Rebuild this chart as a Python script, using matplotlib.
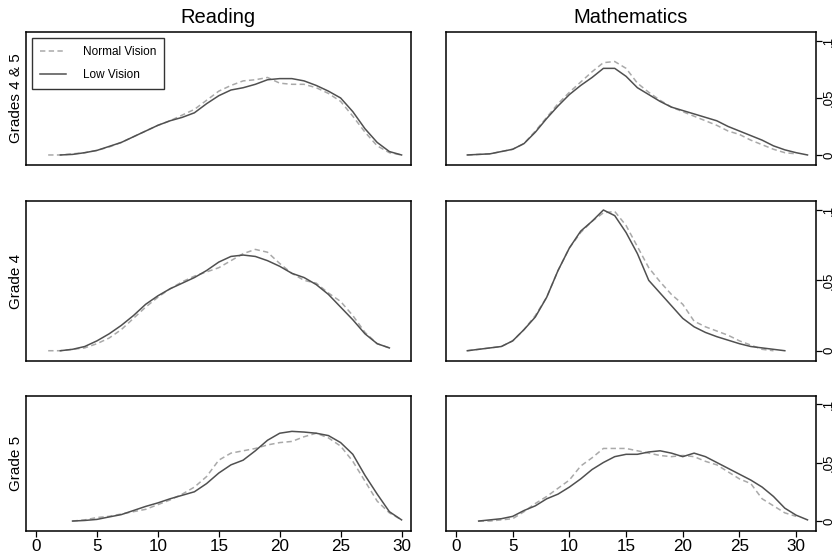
import numpy as np
import matplotlib
matplotlib.use("Agg")
import matplotlib.pyplot as plt

plt.rcParams['font.family'] = ['Liberation Sans', 'DejaVu Sans']

col_titles = ["Reading", "Mathematics"]
row_labels = ["Grades 4 & 5", "Grade 4", "Grade 5"]
series_names = ["Normal Vision", "Low Vision"]
xticks = [0, 5, 10, 15, 20, 25, 30]
yticks = [0, 0.05, 0.1]
ytick_labels = ["0", ".05", ".1"]

# Reading, Grades 4 & 5
read_g45_low_x = np.arange(2, 31)
read_g45_low = [0.000, 0.0005, 0.002, 0.004, 0.0075, 0.011, 0.016, 0.021, 0.026, 0.030,
                0.033, 0.037, 0.045, 0.052, 0.057, 0.059, 0.062, 0.066, 0.067, 0.067,
                0.065, 0.061, 0.056, 0.050, 0.038, 0.023, 0.011, 0.003, 0.000]
read_g45_normal_x = np.arange(1, 31)
read_g45_normal = [0.000, 0.000, 0.001, 0.002, 0.004, 0.007, 0.011, 0.016, 0.021, 0.026,
                   0.030, 0.035, 0.040, 0.048, 0.056, 0.061, 0.065, 0.066, 0.068, 0.063,
                   0.062, 0.062, 0.059, 0.054, 0.047, 0.034, 0.020, 0.008, 0.002, 0.000]

# Mathematics, Grades 4 & 5
math_g45_low_x = np.arange(1, 32)
math_g45_low = [0.000, 0.0005, 0.001, 0.003, 0.005, 0.010, 0.020, 0.032, 0.043, 0.053,
                0.061, 0.068, 0.076, 0.076, 0.069, 0.059, 0.053, 0.047, 0.042, 0.039,
                0.036, 0.033, 0.030, 0.025, 0.021, 0.017, 0.013, 0.008, 0.0045, 0.002, 0.000]
math_g45_normal_x = np.arange(1, 31)
math_g45_normal = [0.000, 0.0005, 0.001, 0.003, 0.005, 0.010, 0.021, 0.033, 0.045, 0.055,
                   0.064, 0.073, 0.081, 0.082, 0.076, 0.063, 0.055, 0.048, 0.042, 0.038,
                   0.034, 0.030, 0.026, 0.021, 0.018, 0.013, 0.009, 0.005, 0.002, 0.001]

# Reading, Grade 4
read_g4_low_x = np.arange(2, 30)
read_g4_low = [0.000, 0.001, 0.003, 0.007, 0.012, 0.018, 0.025, 0.033, 0.039, 0.044,
               0.048, 0.052, 0.057, 0.063, 0.067, 0.068, 0.067, 0.064, 0.060, 0.055,
               0.052, 0.047, 0.040, 0.031, 0.022, 0.012, 0.005, 0.002]
read_g4_normal_x = np.arange(1, 30)
read_g4_normal = [0.000, 0.000, 0.001, 0.002, 0.005, 0.009, 0.015, 0.023, 0.031, 0.038,
                  0.044, 0.049, 0.053, 0.056, 0.059, 0.064, 0.069, 0.072, 0.070, 0.062,
                  0.055, 0.050, 0.048, 0.041, 0.035, 0.025, 0.013, 0.005, 0.002]

# Mathematics, Grade 4
math_g4_low_x = np.arange(1, 30)
math_g4_low = [0.000, 0.001, 0.002, 0.003, 0.007, 0.015, 0.024, 0.038, 0.057, 0.073,
               0.085, 0.092, 0.100, 0.096, 0.084, 0.069, 0.050, 0.041, 0.032, 0.023,
               0.017, 0.013, 0.010, 0.0075, 0.005, 0.003, 0.002, 0.001, 0.000]
math_g4_normal_x = np.arange(1, 29)
math_g4_normal = [0.000, 0.001, 0.002, 0.003, 0.007, 0.015, 0.025, 0.038, 0.057, 0.073,
                  0.084, 0.092, 0.098, 0.099, 0.089, 0.074, 0.059, 0.049, 0.040, 0.033,
                  0.021, 0.017, 0.014, 0.011, 0.007, 0.004, 0.001, 0.000]

# Reading, Grade 5
read_g5_low_x = np.arange(3, 31)
read_g5_low = [0.000, 0.0005, 0.0014, 0.0035, 0.0055, 0.009, 0.0125, 0.0155, 0.019, 0.022,
               0.025, 0.032, 0.041, 0.048, 0.052, 0.060, 0.069, 0.075, 0.0766, 0.076,
               0.075, 0.073, 0.067, 0.057, 0.039, 0.023, 0.008, 0.001]
read_g5_normal_x = np.arange(3, 31)
read_g5_normal = [0.000, 0.001, 0.003, 0.004, 0.006, 0.008, 0.010, 0.014, 0.018, 0.023,
                  0.029, 0.038, 0.052, 0.058, 0.060, 0.062, 0.065, 0.067, 0.068, 0.072,
                  0.075, 0.071, 0.064, 0.051, 0.034, 0.017, 0.007, 0.001]

# Mathematics, Grade 5
math_g5_low_x = np.arange(2, 32)
math_g5_low = [0.000, 0.001, 0.002, 0.004, 0.009, 0.013, 0.019, 0.023, 0.029, 0.036,
               0.044, 0.050, 0.055, 0.057, 0.057, 0.059, 0.060, 0.058, 0.055, 0.058,
               0.055, 0.050, 0.045, 0.040, 0.035, 0.029, 0.021, 0.011, 0.005, 0.001]
math_g5_normal_x = np.arange(2, 31)
math_g5_normal = [0.000, 0.000, 0.001, 0.002, 0.008, 0.015, 0.021, 0.028, 0.035, 0.047,
                  0.054, 0.062, 0.062, 0.062, 0.060, 0.058, 0.056, 0.055, 0.056, 0.055,
                  0.051, 0.048, 0.042, 0.036, 0.032, 0.019, 0.013, 0.007, 0.004]

panels = [
    [(read_g45_normal_x, read_g45_normal, read_g45_low_x, read_g45_low),
     (math_g45_normal_x, math_g45_normal, math_g45_low_x, math_g45_low)],
    [(read_g4_normal_x, read_g4_normal, read_g4_low_x, read_g4_low),
     (math_g4_normal_x, math_g4_normal, math_g4_low_x, math_g4_low)],
    [(read_g5_normal_x, read_g5_normal, read_g5_low_x, read_g5_low),
     (math_g5_normal_x, math_g5_normal, math_g5_low_x, math_g5_low)],
]

W, H = 839, 553
fig = plt.figure(figsize=(W / 100, H / 100), dpi=100)

col_px = [(26, 410.7), (446, 816)]
row_px = [(32, 165), (201, 361), (396, 531)]
col_xlim = [(-0.82, 30.75), (-0.88, 31.75)]
row_ylim = [(-0.0088, 0.1079), (-0.0073, 0.1064), (-0.0085, 0.1068)]

solid_color = "#505050"
dash_color = "#a9a9a9"

for r in range(3):
    for c in range(2):
        x0, x1 = col_px[c]
        y0, y1 = row_px[r]
        ax = fig.add_axes([x0 / W, 1 - y1 / H, (x1 - x0) / W, (y1 - y0) / H])
        nx, ny, lx, ly = panels[r][c]
        ax.plot(nx, ny, color=dash_color, lw=1.1, dashes=(3.5, 2.2), label=series_names[0])
        ax.plot(lx, ly, color=solid_color, lw=1.1, label=series_names[1])
        ax.set_xlim(*col_xlim[c])
        ax.set_ylim(*row_ylim[r])
        for sp in ax.spines.values():
            sp.set_linewidth(1.1)
            sp.set_color("black")
        if r == 2:
            ax.set_xticks(xticks)
            ax.tick_params(axis='x', direction='out', length=4.5, width=0.9,
                           labelsize=12.3, pad=1.5)
        else:
            ax.set_xticks([])
        if c == 1:
            ax.yaxis.tick_right()
            ax.set_yticks(yticks)
            ax.set_yticklabels(ytick_labels, rotation=90, va='center')
            ax.tick_params(axis='y', direction='out', length=4, width=0.9,
                           labelsize=9.5, pad=1.2)
        else:
            ax.set_yticks([])
            ax.set_ylabel(row_labels[r], fontsize=11, labelpad=2)
        if r == 0:
            ax.set_title(col_titles[c], fontsize=14.5, pad=6.5)
        if r == 0 and c == 0:
            leg = ax.legend(loc='upper left', bbox_to_anchor=(0.0156, 0.955),
                            borderaxespad=0, fontsize=8.5, frameon=True, fancybox=False,
                            edgecolor='black', handlelength=2.2, handletextpad=1.5,
                            labelspacing=0.95, borderpad=0.65)
            leg.get_frame().set_linewidth(1.0)

fig.savefig("out.png", dpi=100)
